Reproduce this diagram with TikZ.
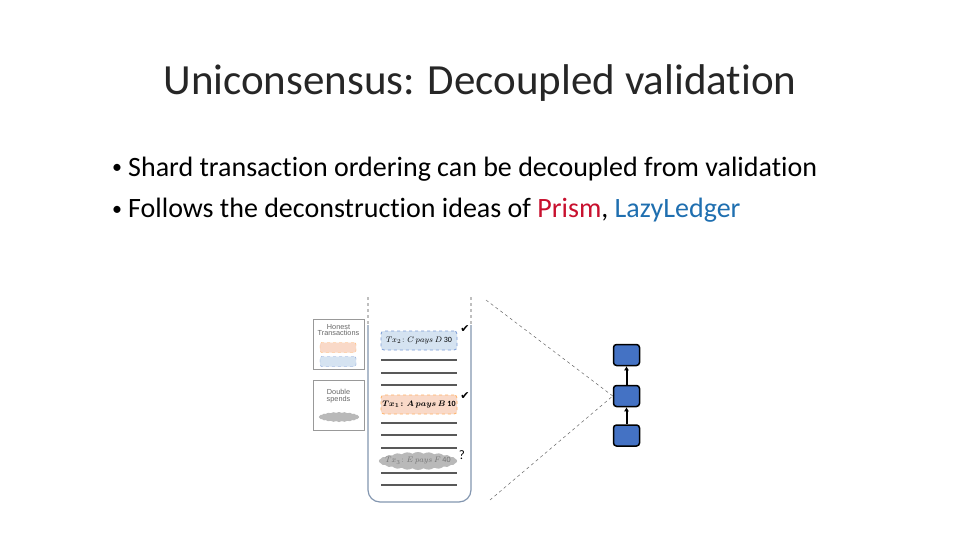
\documentclass[tikz,border=0pt]{standalone}
\usepackage{amsmath}
\usepackage{fontspec}
\setmainfont{Carlito}[RawFeature=-liga]
\newfontfamily\symfont{DejaVu Sans}
\newfontfamily\legfont{Liberation Sans}
\usetikzlibrary{shapes.symbols,arrows.meta}

\definecolor{prismred}{HTML}{C8102E}
\definecolor{lazyblue}{HTML}{1F6FB0}
\definecolor{blkblue}{HTML}{4472C4}
\definecolor{honestblue}{HTML}{D5E3F1}
\definecolor{honestorange}{HTML}{F9D9C8}
\definecolor{binline}{HTML}{8497B0}

\tikzset{
  legbox/.style={draw=gray!80, line width=0.6pt, minimum width=51pt, minimum height=50pt, inner sep=0pt},
  legtext/.style={font=\legfont\fontsize{7.3}{8}\selectfont, text=gray!80!black, align=center},
  txblue/.style={draw=blkblue!70, dashed, line width=0.8pt, fill=honestblue, rounded corners=3pt,
    minimum width=76pt, minimum height=19pt, inner sep=0pt, font=\fontsize{8}{9}\selectfont},
  txorange/.style={draw=orange!60, dashed, line width=0.8pt, fill=honestorange, rounded corners=3pt,
    minimum width=76pt, minimum height=19pt, inner sep=0pt, font=\fontsize{8}{9}\selectfont},
  spend/.style={cloud, cloud puffs=22, cloud puff arc=70, aspect=4, fill=gray!55, draw=none,
    minimum width=78pt, minimum height=18pt, inner sep=0pt},
  blk/.style={draw=black, fill=blkblue, line width=1.5pt, rounded corners=3pt,
    minimum width=26pt, minimum height=21pt, inner sep=0pt},
  chkmark/.style={font=\symfont\fontsize{11}{11}\selectfont},
  bultext/.style={anchor=base west, inner sep=0pt, font=\fontsize{28}{32}\selectfont},
  buldot/.style={anchor=base west, inner sep=0pt, font=\fontsize{20}{24}\selectfont}
}

\begin{document}
\begin{tikzpicture}[x=1pt,y=-1pt]
  \useasboundingbox[fill=white] (0,0) rectangle (960,540);

  % title and bullets
  \node[anchor=base, text=black!85] (title) at (480,95) {\fontsize{43}{50}\selectfont Uniconsensus: Decoupled validation};
  \node[buldot] (dot1) at (112,174) {•};
  \node[bultext] (bul1) at (128,176) {Shard transaction ordering can be decoupled from validation};
  \node[buldot] (dot2) at (112,215) {•};
  \node[bultext] (bul2) at (128,217)
    {Follows the deconstruction ideas of \textcolor{prismred}{Prism}, \textcolor{lazyblue}{LazyLedger}};

  % legend
  \node[legbox] (leg1) at (338.5,344) {};
  \node[legtext] (honest) at (338.5,330) {Honest\\[-1.5pt]Transactions};
  \node[draw=orange!60, dashed, fill=honestorange, rounded corners=2pt, minimum width=36pt, minimum height=10pt, inner sep=0pt] (lego) at (338,347.5) {};
  \node[draw=blkblue!70, dashed, fill=honestblue, rounded corners=2pt, minimum width=36pt, minimum height=10pt, inner sep=0pt] (legb) at (338,361.5) {};
  \node[legbox] (leg2) at (338.5,405.5) {};
  \node[legtext] (double) at (338.5,396) {Double\\[-1.5pt]spends};
  \node[spend, minimum width=40pt, minimum height=10pt, aspect=4] (legs) at (339,417) {};

  % the bin of transactions
  \draw[binline, line width=1.2pt, rounded corners=12pt] (368,325) -- (368,502) -- (471,502) -- (471,325);
  \draw[gray!50, dashed, line width=1.2pt] (368,297) -- (368,325);
  \draw[gray!50, dashed, line width=1.2pt] (471,297) -- (471,325);

  % lines in the bin
  \foreach \y in {360,373,385,423,435,448,473,485} {%
    \draw[line width=1.6pt, black!65] (381,\y) -- (457,\y);
  }

  % transactions
  \node[txblue] (tx2) at (419,340.5) {$Tx_2\colon C\ pays\ D$ 30};
  \node[txorange] (tx1) at (419,404.5) {$\boldsymbol{Tx_1\colon A\ pays\ B}$ \textbf{10}};
  \node[spend] (tx3) at (418,461) {};
  \node[font=\fontsize{8}{9}\selectfont, text=gray!90!black] (tx3t) at (418,461) {$Tx_3\colon E\ pays\ F$ 40};
  \node[chkmark] (chk2) at (465,329) {✔};
  \node[chkmark] (chk1) at (465,396) {✔};
  \node[font=\fontsize{13}{13}\selectfont] (qm) at (462,455) {?};

  % chain of blocks
  \node[blk] (b1) at (626.5,355) {};
  \node[blk] (b2) at (626.5,396) {};
  \node[blk] (b3) at (626.5,435.5) {};
  \draw[-{Latex[length=4pt,width=5pt]}, line width=2pt] (b3) -- (b2);
  \draw[-{Latex[length=4pt,width=5pt]}, line width=2pt] (b2) -- (b1);

  % zoom lines
  \coordinate (ztop) at (486,300);
  \coordinate (zbot) at (490,500);
  \draw[dashed, black!60, line width=0.5pt] (ztop) -- (b2.west);
  \draw[dashed, black!60, line width=0.5pt] (zbot) -- (b2.west);
\end{tikzpicture}
\end{document}
